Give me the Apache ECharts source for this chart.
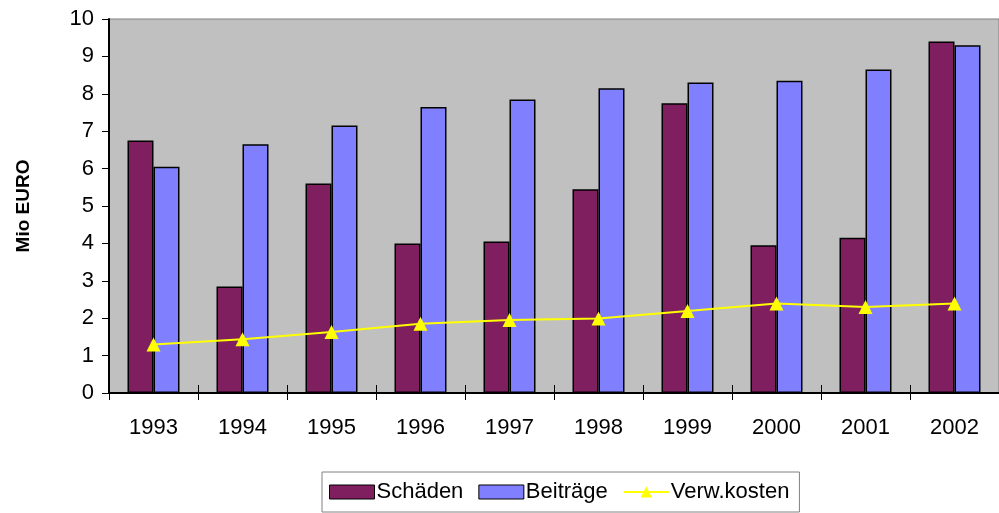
<!DOCTYPE html>
<html>
<head>
<meta charset="utf-8">
<script src="https://cdn.jsdelivr.net/npm/echarts@6/dist/echarts.min.js"></script>
<style>html,body{margin:0;padding:0;background:#fff;}#c{width:999px;height:513px;}</style>
</head>
<body>
<div id="c"></div>
<script>
const years = ['1993','1994','1995','1996','1997','1998','1999','2000','2001','2002'];
const schaeden = [6.75, 2.85, 5.6, 4.0, 4.05, 5.45, 7.75, 3.95, 4.15, 9.4];
const beitraege = [6.05, 6.65, 7.15, 7.65, 7.85, 8.15, 8.3, 8.35, 8.65, 9.3];
const verwkosten = [1.3, 1.44, 1.63, 1.85, 1.95, 1.99, 2.19, 2.39, 2.3, 2.39];
const yTicks = [0,1,2,3,4,5,6,7,8,9,10];

const chart = echarts.init(document.getElementById('c'), null, {renderer:'canvas'});
const font = 'Liberation Sans, Arial, sans-serif';
chart.setOption({
  animation: false,
  textStyle: {fontFamily: font},
  grid: {left:109, right:0, top:19, bottom:120, show:true, backgroundColor:'#C0C0C0', borderColor:'#808080', borderWidth:1},
  legend: {
    left: 322, top: 472, width: 474,
    padding: [9, 10, 9, 7],
    borderColor: '#808080', borderWidth: 1,
    itemWidth: 45, itemHeight: 14, itemGap: 15,
    textStyle: {fontFamily: font, fontSize: 22, color:'#000', padding:[0,0,0,-3]},
    data: [
      {name:'Schäden', icon:'rect', itemStyle:{borderColor:'#000', borderWidth:1}},
      {name:'Beiträge', icon:'rect', itemStyle:{borderColor:'#000', borderWidth:1}},
      {name:'Verw.kosten'}
    ]
  },
  xAxis: [{
    type:'category', data: years, gridIndex:0,
    axisLine:{show:true, lineStyle:{color:'#000', width:2}},
    axisTick:{show:true, length:7, lineStyle:{color:'#000'}},
    axisLabel:{color:'#000', fontSize:22, fontFamily:font, margin:24},
    splitLine:{show:false}
  },{
    type:'category', data: years, gridIndex:0, position:'bottom',
    axisLine:{show:false},
    axisTick:{show:true, inside:true, length:8, lineStyle:{color:'#000'}},
    axisLabel:{show:false}
  }],
  yAxis: {
    type:'value', min:0, max:10, interval:1,
    name:'Mio EURO', nameLocation:'middle', nameGap:76, nameRotate:90,
    nameTextStyle:{fontFamily:font, fontSize:19, fontWeight:'bold', color:'#000'},
    axisLine:{show:true, lineStyle:{color:'#000', width:2}},
    axisTick:{show:true, length:7, lineStyle:{color:'#000'}},
    axisLabel:{color:'#000', fontSize:22, fontFamily:font, margin:15,
      formatter: v => yTicks.includes(v) ? String(v) : ''},
    splitLine:{show:false}
  },
  series: [
    {name:'Schäden', type:'bar', data: schaeden, barWidth:26, barGap:'0%',
     itemStyle:{color:'#801F5F', borderColor:'#000', borderWidth:1.5}},
    {name:'Beiträge', type:'bar', data: beitraege, barWidth:26, barGap:'0%',
     itemStyle:{color:'#8080FF', borderColor:'#000', borderWidth:1.5}},
    {name:'Verw.kosten', type:'line', data: verwkosten, symbol:'triangle', symbolSize:14,
     lineStyle:{color:'#FFFF00', width:2}, itemStyle:{color:'#FFFF00'}, z:5}
  ]
});
</script>
</body>
</html>
